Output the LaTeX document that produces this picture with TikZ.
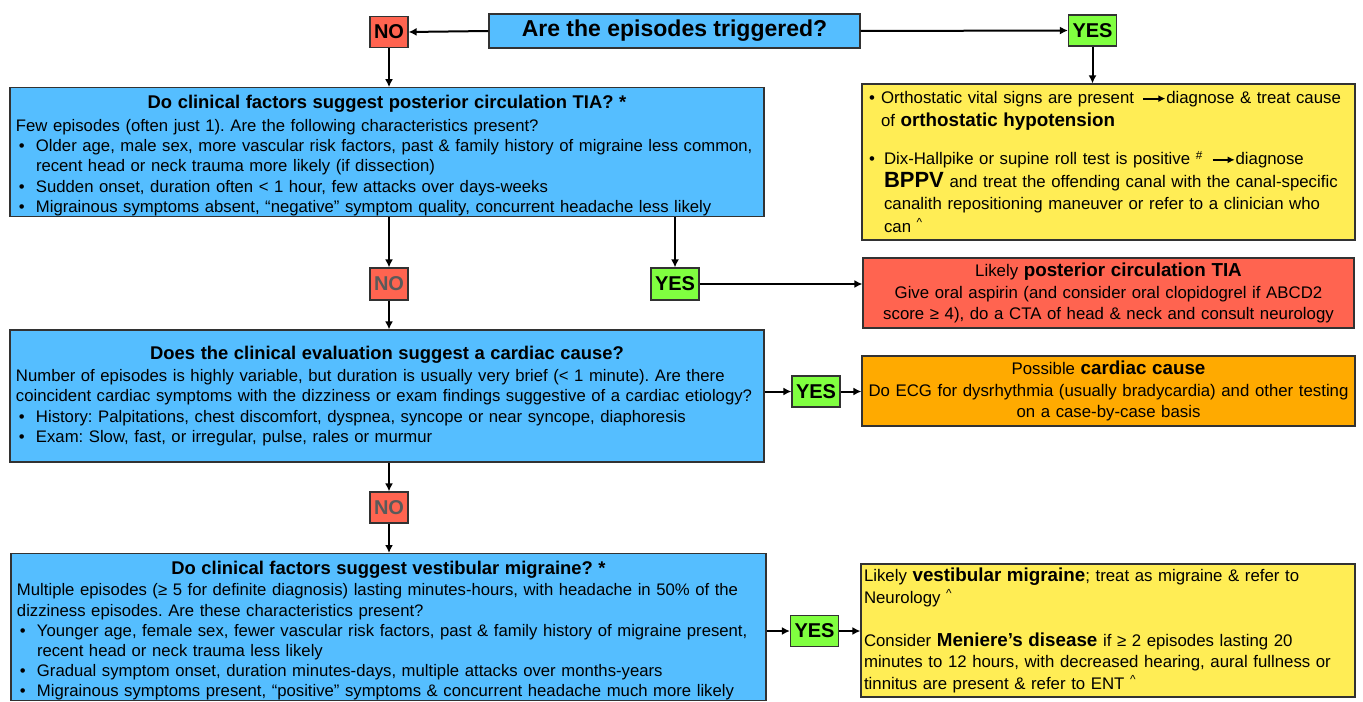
\documentclass[tikz,border=0pt]{standalone}
\usepackage{fontspec}
\setmainfont{Liberation Sans}
\usetikzlibrary{arrows.meta}
\frenchspacing

\definecolor{qblue}{RGB}{85,190,255}
\definecolor{nored}{RGB}{255,100,80}
\definecolor{yesgreen}{RGB}{128,255,64}
\definecolor{actyellow}{RGB}{255,237,85}
\definecolor{cardorange}{RGB}{255,170,0}
\definecolor{edgegray}{RGB}{50,50,50}
\definecolor{nogray}{RGB}{90,90,90}

\newcommand{\bul}{\makebox[10pt][l]{\,\textbullet}}
\newcommand{\ind}{\hspace*{10pt}}
\newcommand{\hatmark}{\textsuperscript{\textasciicircum}}
\newcommand{\darr}{\tikz[baseline=-0.55ex]\draw[-{Latex[length=3.5pt,width=3.5pt]},line width=0.9pt] (0pt,0pt) -- (11pt,0pt);}

\begin{document}
\begin{tikzpicture}[x=0.5pt,y=-0.5pt,
    ans/.style={draw=edgegray,line width=0.6pt,inner sep=0pt,minimum height=15.5pt,font=\fontsize{10}{11}\bfseries},
    nobox/.style={ans,fill=nored,minimum width=19pt},
    yesbox/.style={ans,fill=yesgreen,minimum width=24pt},
    qbox/.style={draw=edgegray,fill=qblue,line width=0.6pt,align=left,inner xsep=3pt,inner ysep=2pt,
                 text width=371pt,font=\fontsize{8.35}{10.2}\selectfont},
    rbox/.style={draw=edgegray,line width=0.6pt,inner xsep=2pt,inner ysep=2pt,
                 text width=242.5pt,font=\fontsize{8.4}{10.8}\selectfont},
    link/.style={line width=1pt,-{Latex[length=4pt,width=4pt]}}]
    \useasboundingbox (0,0) rectangle (1363,701);
    {\fontsize{8.35}{10.2}\selectfont

    % Marking the first question
    \node [draw=edgegray,fill=qblue,line width=0.6pt,minimum width=185.5pt,minimum height=17pt,
           font=\fontsize{11.5}{12}\bfseries] (title) at (674.5,31) {Are the episodes triggered?};%

    % Marking answers to the first question
    \node [nobox] (no1) at (389,32) {NO};%
    \node [yesbox] (yes1) at (1092.5,30.5) {YES};%

    % Drawing box of triggered episodes
    \node [rbox,fill=actyellow,minimum height=78pt,align=left,inner xsep=3.5pt,text width=239.5pt,
           font=\fontsize{8.4}{11.3}\selectfont] (trig) at (1108.5,162) {%
      \makebox[6pt][l]{\textbullet}Orthostatic vital signs are present\enspace\darr diagnose \& treat cause\\
      \hspace*{6pt}of {\fontsize{9.4}{11.3}\bfseries orthostatic hypotension}\\[8pt]
      \makebox[7.5pt][l]{\textbullet}Dix-Hallpike or supine roll test is positive \textsuperscript{\#}\enspace\darr diagnose\\
      \hspace*{7.5pt}{\fontsize{11}{11.3}\bfseries BPPV} and treat the offending canal with the canal-specific\\
      \hspace*{7.5pt}canalith repositioning maneuver or refer to a clinician who\\
      \hspace*{7.5pt}can \hatmark};%

    % Drawing box of posterior circulation TIA question
    \node [qbox,minimum height=64pt,inner ysep=0pt] (tiaq) at (387,152) {%
      \rule{0pt}{10.5pt}\hfill{\fontsize{9.2}{10.2}\bfseries Do clinical factors suggest posterior circulation TIA? *}\hfill\null\\[1pt]
      Few episodes (often just 1). Are the following characteristics present?\\
      \bul Older age, male sex, more vascular risk factors, past \& family history of migraine less common,\\
      \ind recent head or neck trauma more likely (if dissection)\\
      \bul Sudden onset, duration often < 1 hour, few attacks over days-weeks\\
      \bul Migrainous symptoms absent, “negative” symptom quality, concurrent headache less likely};%

    % Marking answers to the TIA question
    \node [nobox,minimum height=16pt,text=nogray] (no2) at (389,284) {NO};%
    \node [yesbox,minimum height=16pt] (yes2) at (675,284) {YES};%

    % Drawing box of likely TIA
    \node [rbox,fill=nored,minimum height=35pt,align=center,text width=241.5pt] (tia) at (1108.5,293) {%
      Likely {\fontsize{9.4}{10.8}\bfseries posterior circulation TIA}\\
      Give oral aspirin (and consider oral clopidogrel if ABCD2\\
      score ≥ 4), do a CTA of head \& neck and consult neurology};%

    % Drawing box of cardiac question
    \node [qbox,minimum height=66pt] (cardq) at (387,396) {%
      \hfill{\fontsize{9.2}{10.2}\bfseries Does the clinical evaluation suggest a cardiac cause?}\hfill\null\\[1pt]
      Number of episodes is highly variable, but duration is usually very brief (< 1 minute). Are there\\
      coincident cardiac symptoms with the dizziness or exam findings suggestive of a cardiac etiology?\\
      \bul History: Palpitations, chest discomfort, dyspnea, syncope or near syncope, diaphoresis\\
      \bul Exam: Slow, fast, or irregular, pulse, rales or murmur};%

    % Marking answers to the cardiac question
    \node [yesbox] (yes3) at (816,391.5) {YES};%
    \node [nobox,text=nogray] (no3) at (389,507.5) {NO};%

    % Drawing box of possible cardiac cause
    \node [rbox,fill=cardorange,minimum height=35pt,align=center] (card) at (1108.5,391) {%
      Possible {\fontsize{9.4}{10.8}\bfseries cardiac cause}\\
      Do ECG for dysrhythmia (usually bradycardia) and other testing\\
      on a case-by-case basis};%

    % Drawing box of vestibular migraine question
    \node [qbox,anchor=north,text width=371.5pt,inner ysep=0pt,font=\fontsize{8.35}{10.1}\selectfont] (vmq) at (388.5,553) {%
      \rule{0pt}{10.5pt}\hfill{\fontsize{9.2}{10.1}\bfseries Do clinical factors suggest vestibular migraine? *}\hfill\null\\[0.5pt]
      Multiple episodes (≥ 5 for definite diagnosis) lasting minutes-hours, with headache in 50\% of the\\
      dizziness episodes. Are these characteristics present?\\
      \bul Younger age, female sex, fewer vascular risk factors, past \& family history of migraine present,\\
      \ind recent head or neck trauma less likely\\
      \bul Gradual symptom onset, duration minutes-days, multiple attacks over months-years\\
      \bul Migrainous symptoms present, “positive” symptoms \& concurrent headache much more likely\\[12pt]};%

    % Marking answer to the vestibular migraine question
    \node [yesbox] (yes4) at (814.5,631) {YES};%

    % Drawing box of likely vestibular migraine
    \node [rbox,fill=actyellow,minimum height=65.5pt,align=left,inner xsep=1.5pt,text width=244pt] (vm) at (1108,630.5) {%
      Likely {\fontsize{9.4}{10.8}\bfseries vestibular migraine}; treat as migraine \& refer to\\
      Neurology \hatmark\\[10.8pt]
      Consider {\fontsize{9.4}{10.8}\bfseries Meniere’s disease} if ≥ 2 episodes lasting 20\\
      minutes to 12 hours, with decreased hearing, aural fullness or\\
      tinnitus are present \& refer to ENT \hatmark};%

    % Drawing connectors
    \draw [link] (title.west) -- (no1.east);%
    \draw [link] (title.east) -- (yes1.west);%
    \draw [link] (no1.south) -- (tiaq.north -| no1);%
    \draw [link] (yes1.south) -- (trig.north -| yes1);%
    \draw [link] (tiaq.south -| no2) -- (no2.north);%
    \draw [link] (tiaq.south -| yes2) -- (yes2.north);%
    \draw [link] (yes2.east) -- (tia.west |- yes2);%
    \draw [link] (no2.south) -- (cardq.north -| no2);%
    \draw [link] (cardq.east |- yes3) -- (yes3.west);%
    \draw [link] (yes3.east) -- (card.west |- yes3);%
    \draw [link] (cardq.south -| no3) -- (no3.north);%
    \draw [link] (no3.south) -- (vmq.north -| no3);%
    \draw [link] (vmq.east |- yes4) -- (yes4.west);%
    \draw [link] (yes4.east) -- (vm.west |- yes4);%
    }
\end{tikzpicture}
\end{document}
